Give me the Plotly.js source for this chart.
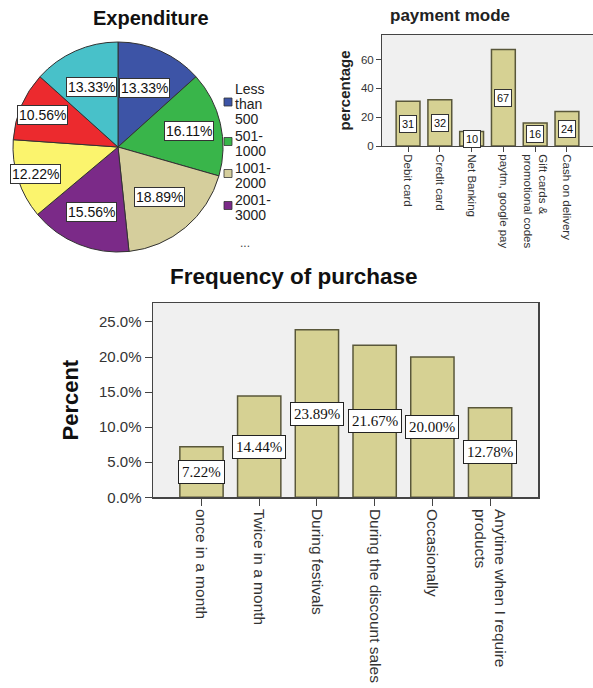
<!DOCTYPE html>
<html>
<head>
<meta charset="utf-8">
<script src="https://cdn.plot.ly/plotly-3.0.1.min.js"></script>
<style>html,body{margin:0;padding:0;background:#fff;}#chart{width:593px;height:688px;}</style>
</head>
<body>
<div id="chart"></div>
<script>
// ---- data ----
const expCats = ["Less than 500", "501-1000", "1001-2000", "2001-3000", "3001-4000", "4001-5000", "Above 5000"];
const expValues = [13.33, 16.11, 18.89, 15.56, 12.22, 10.56, 13.33];
const legendShown = 4;

const payCats = ["Debit card", "Credit card", "Net Banking", "paytm, google pay", "Gift cards &<br>promotional codes", "Cash on delivery"];
const payValues = [31, 32, 10, 67, 16, 24];
const payTicks = [0, 20, 40, 60];

const freqCats = ["once in a month", "Twice in a month", "During festivals", "During the discount sales", "Occasionally", "Anytime when I require<br>products"];
const freqValues = [7.22, 14.44, 23.89, 21.67, 20.00, 12.78];
const freqTicks = [0, 5, 10, 15, 20, 25];

// ---- styles ----
const W = 593, H = 688;
const FONT = "Liberation Sans, Arial, sans-serif";
const SERIF = "Liberation Serif, Times New Roman, serif";
const pieColors = ["#3d54a6", "#39b54a", "#d5ce9c", "#7b2a88", "#fbf46d", "#ec2a2e", "#48c1c9"];
const barFill = "#d6d193";
const barLine = "#59573a";
const frameColor = "#444";
const pieLabelRadius = [0.62, 0.69, 0.62, 0.67, 0.83, 0.78, 0.63];

// pie geometry (pixels)
const pieCx = 118, pieCy = 147, pieR = 105;
const px = v => v / W, py = v => 1 - v / H;

const traces = [
  {
    type: "pie", values: expValues, labels: expCats, sort: false,
    direction: "clockwise", rotation: 0,
    marker: {colors: pieColors, line: {color: "#333", width: 1}},
    textinfo: "none", hoverinfo: "label+percent",
    domain: {x: [px(pieCx - pieR), px(pieCx + pieR)], y: [py(pieCy + pieR), py(pieCy - pieR)]}
  },
  {
    type: "bar", x: payCats, y: payValues, xaxis: "x2", yaxis: "y2", width: 0.75,
    marker: {color: barFill, line: {color: barLine, width: 1.5}}, hoverinfo: "x+y"
  },
  {
    type: "bar", x: freqCats, y: freqValues, xaxis: "x3", yaxis: "y3", width: 0.75,
    marker: {color: barFill, line: {color: barLine, width: 1.5}}, hoverinfo: "x+y"
  }
];

const annotations = [];
const shapes = [];
const ann = o => annotations.push(Object.assign({showarrow: false, xanchor: "center", yanchor: "middle"}, o));

// pie percentage labels computed from cumulative values
const total = expValues.reduce((a, b) => a + b, 0);
let cum = 0;
expValues.forEach((v, i) => {
  const mid = (cum + v / 2) / total * 2 * Math.PI;
  cum += v;
  const r = pieR * pieLabelRadius[i];
  ann({
    xref: "paper", yref: "paper",
    x: px(pieCx + r * Math.sin(mid)), y: py(pieCy - r * Math.cos(mid)),
    text: v.toFixed(2) + "%",
    font: {family: FONT, size: 14, color: "#111"},
    bgcolor: "#fff", bordercolor: "#333", borderwidth: 1, borderpad: 1
  });
});

// manual truncated legend
let ly = 89;
for (let i = 0; i < legendShown; i++) {
  const lines = expCats[i].replace(/ /g, "\n").replace(/-/g, "-\n").split("\n").filter(s => s.length);
  const top = ly;
  lines.forEach(s => {
    ann({xref: "paper", yref: "paper", x: px(233), y: py(ly), xanchor: "left",
      text: s, font: {family: FONT, size: 14, color: "#222"}});
    ly += 15;
  });
  const c = (top + ly - 15) / 2 - 2;
  shapes.push({type: "rect", xref: "paper", yref: "paper", x0: px(224), x1: px(232), y0: py(c + 4), y1: py(c - 4),
    fillcolor: pieColors[i], line: {color: "#333", width: 0.8}});
  ly += 2;
}
ann({xref: "paper", yref: "paper", x: px(238), y: py(243), xanchor: "left",
  text: "...", font: {family: FONT, size: 12, color: "#444"}});

// titles
ann({xref: "paper", yref: "paper", x: px(151), y: py(18), text: "<b>Expenditure</b>",
  font: {family: FONT, size: 20, color: "#111"}});
ann({xref: "paper", yref: "paper", x: px(450), y: py(15), text: "<b>payment mode</b>",
  font: {family: FONT, size: 17, color: "#222"}});
ann({xref: "paper", yref: "paper", x: px(294), y: py(277), text: "<b>Frequency of purchase</b>",
  font: {family: FONT, size: 22.5, color: "#111"}});

// bar value labels
payCats.forEach((c, i) => {
  ann({xref: "x2", yref: "y2", x: c, y: payValues[i] / 2, text: String(payValues[i]),
    font: {family: FONT, size: 11, color: "#111"}, bgcolor: "#fff", bordercolor: "#333", borderwidth: 1, borderpad: 2});
});
freqCats.forEach((c, i) => {
  ann({xref: "x3", yref: "y3", x: c, y: freqValues[i] / 2, text: freqValues[i].toFixed(2) + "%",
    font: {family: SERIF, size: 15, color: "#111"}, bgcolor: "#fff", bordercolor: "#222", borderwidth: 1, borderpad: 3});
});

const layout = {
  width: W, height: H, margin: {l: 0, r: 0, t: 0, b: 0},
  paper_bgcolor: "#fff", showlegend: false,
  font: {family: FONT, color: "#333"},
  xaxis2: {
    domain: [px(382), 1], range: [-0.82, 5.82], type: "category", anchor: "y2",
    showline: true, linecolor: frameColor, linewidth: 1, mirror: true,
    ticks: "outside", ticklen: 5, tickcolor: frameColor, tickangle: 90,
    tickfont: {family: FONT, size: 11.5, color: "#333"}, showgrid: false
  },
  yaxis2: {
    domain: [py(146), py(35)], range: [0, 77], anchor: "x2",
    tickvals: payTicks, ticktext: payTicks.map(String), ticks: "outside", ticklen: 5, tickcolor: frameColor,
    tickfont: {family: FONT, size: 11.5, color: "#333"},
    showline: true, linecolor: frameColor, linewidth: 1, showgrid: false, zeroline: false,
    title: {text: "<b>percentage</b>", font: {family: FONT, size: 15, color: "#222"}, standoff: 6}
  },
  xaxis3: {
    domain: [px(153), px(538)], range: [-0.84, 5.83], type: "category", anchor: "y3",
    showline: true, linecolor: frameColor, linewidth: 1.5, mirror: true,
    ticks: "outside", ticklen: 7, tickcolor: frameColor, tickangle: 90,
    tickfont: {family: FONT, size: 15.5, color: "#333"}, showgrid: false
  },
  yaxis3: {
    domain: [py(497.3), py(303)], range: [0, 27.7], anchor: "x3",
    tickvals: freqTicks, ticktext: freqTicks.map(v => v.toFixed(1) + "%"),
    ticks: "outside", ticklen: 7, tickcolor: frameColor,
    tickfont: {family: FONT, size: 15, color: "#333"},
    showline: true, linecolor: frameColor, linewidth: 1.5, mirror: true, showgrid: false, zeroline: false,
    title: {text: "<b>Percent</b>", font: {family: FONT, size: 22, color: "#111"}, standoff: 14}
  },
  plot_bgcolor: "#f0f0f0",
  annotations: annotations,
  shapes: shapes
};

Plotly.newPlot("chart", traces, layout, {displayModeBar: false, staticPlot: true});
</script>
</body>
</html>
